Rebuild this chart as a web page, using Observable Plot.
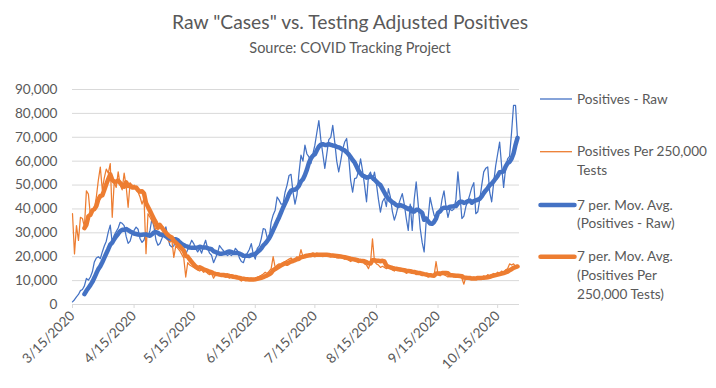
<!DOCTYPE html>
<html>
<head>
<meta charset="utf-8">
<script src="https://cdn.jsdelivr.net/npm/d3@7"></script>
<script src="https://cdn.jsdelivr.net/npm/@observablehq/plot@0.6"></script>
<style>
  body { margin: 0; background: #fff; }
  #wrap { position: relative; width: 716px; height: 388px; font-family: Lato, "Open Sans", sans-serif; color: #595959; background: #fff; overflow: hidden; }
  #head { position: relative; height: 70px; }
  #title { position: absolute; left: 0; width: 700px; top: 10px; line-height: 24px; text-align: center; font-size: 19.3px; }
  #sub { position: absolute; left: 0; width: 700px; top: 39px; line-height: 18px; text-align: center; font-size: 14.5px; }
  #legend { position: absolute; left: 0; top: 0; width: 716px; height: 388px; pointer-events: none; }
  #legsw { position: absolute; left: 0; top: 0; }
  .txt { position: absolute; left: 577px; font-size: 13.6px; line-height: 18.6px; white-space: nowrap; color: #595959; }
  svg g[aria-label="x-axis tick"] { stroke: #d9d9d9; }
  svg g[aria-label="x-axis"] .tick line, svg g[aria-label="x-axis"] .domain { stroke: #d9d9d9; }
</style>
</head>
<body>
<div id="wrap">
  <div id="head">
    <div id="title">Raw "Cases" vs. Testing Adjusted Positives</div>
    <div id="sub">Source: COVID Tracking Project</div>
  </div>
  <div id="chart"></div>
  <div id="legend"></div>
</div>
<script>
// ---- data (daily, starting 3/15/2020) ----
const startDate = "2020-03-15";
const domainEnd = "2020-10-26";

const positivesRaw = [
  1100, 2000, 3200, 4200, 5800, 6300, 7800, 10900, 10200, 11500,
  13700, 17800, 19500, 20000, 19200, 22000, 24500, 26500, 30300, 33200,
  25800, 29000, 30500, 32000, 34400, 34000, 33000, 28500, 25600, 26500,
  29500, 31000, 32400, 31500, 27500, 26000, 27000, 30000, 28500, 31000,
  36000, 32500, 27000, 24800, 25500, 27600, 30000, 32500, 28000, 24800,
  24100, 24500, 27600, 27000, 26000, 23400, 21500, 21000, 23000, 24800,
  26900, 25500, 23500, 22000, 23400, 21500, 24500, 26900, 23500, 21500,
  20600, 17500, 19500, 21500, 24700, 23500, 22500, 21500, 20500, 21000,
  20500, 21500, 23500, 22500, 19500, 18000, 17500, 20000, 21500, 23000,
  25500, 21000, 19000, 23500, 24500, 27500, 31800, 31500, 28000, 27600,
  34500, 37500, 39500, 45000, 43700, 42000, 42000, 47000, 50000, 54000,
  54500, 47000, 42000, 46000, 55000, 62500, 60000, 66700, 63000, 61800,
  59000, 63000, 66700, 72000, 77000, 69000, 63000, 57000, 63000, 69000,
  70000, 75000, 68000, 60000, 55500, 60000, 65000, 68000, 69500, 62000,
  52000, 47000, 52700, 53000, 56000, 61000, 56000, 50000, 43000, 54000,
  55400, 52000, 55400, 50400, 44000, 38700, 43000, 44500, 41000, 48500,
  45000, 39000, 35300, 38000, 41600, 44000, 46400, 42000, 36000, 31000,
  42000, 31000, 44000, 51300, 42000, 32000, 26000, 22000, 34600, 36000,
  44800, 41000, 37400, 36000, 39000, 38500, 44000, 47600, 41000, 36500,
  40000, 39300, 40000, 44000, 55500, 46000, 36000, 37000, 41000, 43200,
  46000, 49000, 51000, 38000, 38800, 44000, 50000, 55500, 57000, 57600,
  47000, 43000, 51000, 58000, 63000, 68000, 58000, 49000, 57000, 61000,
  62000, 72000, 83400, 83400, 69500
];

const positivesPer250k = [
  38000, 21200, 33000, 26800, 36500, 36000, 32500, 47600, 46200, 37200,
  40000, 40000, 45000, 52000, 57500, 48000, 53000, 56700, 55000, 59000,
  36500, 51300, 49000, 55500, 50000, 48000, 55000, 49500, 40700, 51000,
  49000, 50000, 48000, 47000, 45000, 42000, 44500, 21300, 38000, 36500,
  35000, 33500, 31000, 30000, 29000, 30000, 29000, 28000, 27000, 26000,
  27000, 19700, 24500, 23500, 22500, 21000, 19500, 11500, 17500, 16500,
  16000, 15500, 15000, 14500, 14000, 14500, 13500, 14000, 13000, 12500,
  13000, 11000, 12500, 13000, 12500, 12000, 12500, 11500, 11500, 11000,
  11800, 11000, 11200, 11000, 10500, 9800, 10500, 10200, 10500, 10800,
  11000, 10400, 10600, 11500, 11800, 12200, 12800, 13500, 13000, 14000,
  15000, 20000, 15500, 16500, 17000, 16500, 17500, 18000, 18500, 19000,
  19500, 18500, 19000, 20000, 19500, 23000, 20000, 21000, 20500, 20000,
  20500, 21500, 21000, 21500, 21000, 20500, 20000, 20500, 21000, 20500,
  20000, 21000, 20000, 19500, 19500, 20000, 19500, 19000, 19500, 18500,
  18000, 18500, 19000, 18000, 17500, 18500, 18000, 17000, 16500, 15000,
  17500, 27500, 18000, 17000, 16500, 15500, 16000, 15500, 15000, 15500,
  15000, 14500, 14000, 15000, 14500, 14000, 14500, 14000, 13000, 13500,
  14000, 13000, 13500, 12500, 13000, 12500, 12000, 12500, 12000, 11500,
  12500, 12000, 12000, 18000, 12500, 12000, 13000, 12500, 12000, 11500,
  12500, 12000, 11500, 12000, 12500, 11500, 11000, 8500, 11500, 11000,
  11500, 11000, 11500, 11000, 10500, 11500, 11000, 12000, 11500, 12500,
  12000, 12500, 13000, 12500, 13500, 13000, 14000, 13500, 14500, 15000,
  17000, 16500, 17000, 16000, 15500
];

const xTickDates = ["2020-03-15", "2020-04-15", "2020-05-15", "2020-06-15", "2020-07-15", "2020-08-15", "2020-09-15", "2020-10-15"];
const yTicks = [0, 10000, 20000, 30000, 40000, 50000, 60000, 70000, 80000, 90000];

const seriesNames = ["Positives - Raw", "Positives Per 250,000 Tests", "7 per. Mov. Avg. (Positives - Raw)", "7 per. Mov. Avg. (Positives Per 250,000 Tests)"];
const seriesColors = ["#4472C4", "#ED7D31", "#4472C4", "#ED7D31"];

// ---- build table ----
const start = new Date(startDate + "T00:00:00Z");
const table = positivesRaw.map((v, i) => ({
  date: d3.utcDay.offset(start, i),
  raw: v,
  adj: positivesPer250k[i]
}));

const fmtThousands = d3.format(",");
const fmtDate = d3.utcFormat("%-m/%-d/%Y");

const chart = Plot.plot({
  width: 716,
  height: 318,
  marginTop: 19,
  marginBottom: 84,
  marginLeft: 72,
  marginRight: 197,
  style: { fontFamily: "Lato, 'Open Sans', sans-serif", fontSize: "13.6px", color: "#595959", background: "white", overflow: "visible" },
  x: {
    type: "utc",
    domain: [start, new Date(domainEnd + "T00:00:00Z")],
    ticks: xTickDates.map(d => new Date(d + "T00:00:00Z")),
    tickFormat: d => fmtDate(d),
    tickRotate: -45,
    tickSize: 4,
    tickPadding: 5,
    label: null
  },
  y: {
    domain: [0, 90000],
    ticks: yTicks,
    tickFormat: d => fmtThousands(d),
    tickSize: 0,
    tickPadding: 15,
    label: null
  },
  marks: [
    Plot.ruleY(yTicks, { stroke: "#d9d9d9", strokeWidth: 1 }),
    Plot.lineY(table, { x: "date", y: "raw", stroke: seriesColors[0], strokeWidth: 1.25 }),
    Plot.lineY(table, { x: "date", y: "adj", stroke: seriesColors[1], strokeWidth: 1.25 }),
    Plot.lineY(table, Plot.windowY({ k: 7, anchor: "end", strict: true, reduce: "mean" }, { x: "date", y: "raw", stroke: seriesColors[2], strokeWidth: 4.5, strokeLinejoin: "round", strokeLinecap: "round" })),
    Plot.lineY(table, Plot.windowY({ k: 7, anchor: "end", strict: true, reduce: "mean" }, { x: "date", y: "adj", stroke: seriesColors[3], strokeWidth: 4.5, strokeLinejoin: "round", strokeLinecap: "round" }))
  ]
});
document.getElementById("chart").appendChild(chart);

// ---- legend ----
const legendItems = [
  { lines: ["Positives - Raw"], color: seriesColors[0], w: 1.3, cy: 99 },
  { lines: ["Positives Per 250,000", "Tests"], color: seriesColors[1], w: 1.3, cy: 151.7 },
  { lines: ["7 per. Mov. Avg.", "(Positives - Raw)"], color: seriesColors[2], w: 4.5, cy: 205 },
  { lines: ["7 per. Mov. Avg.", "(Positives Per", "250,000 Tests)"], color: seriesColors[3], w: 4.5, cy: 256.7 }
];
const leg = document.getElementById("legend");
const sw = d3.create("svg").attr("id", "legsw").attr("width", 716).attr("height", 388);
legendItems.forEach(it => {
  const thin = it.w < 2;
  sw.append("line")
    .attr("x1", thin ? 540 : 540.5).attr("x2", thin ? 572 : 574.5)
    .attr("y1", it.cy).attr("y2", it.cy)
    .attr("stroke", it.color).attr("stroke-width", it.w)
    .attr("stroke-linecap", thin ? "butt" : "round");
  const t = document.createElement("div");
  t.className = "txt";
  t.style.top = (it.cy - 9.3) + "px";
  t.innerHTML = it.lines.join("<br>");
  leg.appendChild(t);
});
leg.appendChild(sw.node());
</script>
</body>
</html>
